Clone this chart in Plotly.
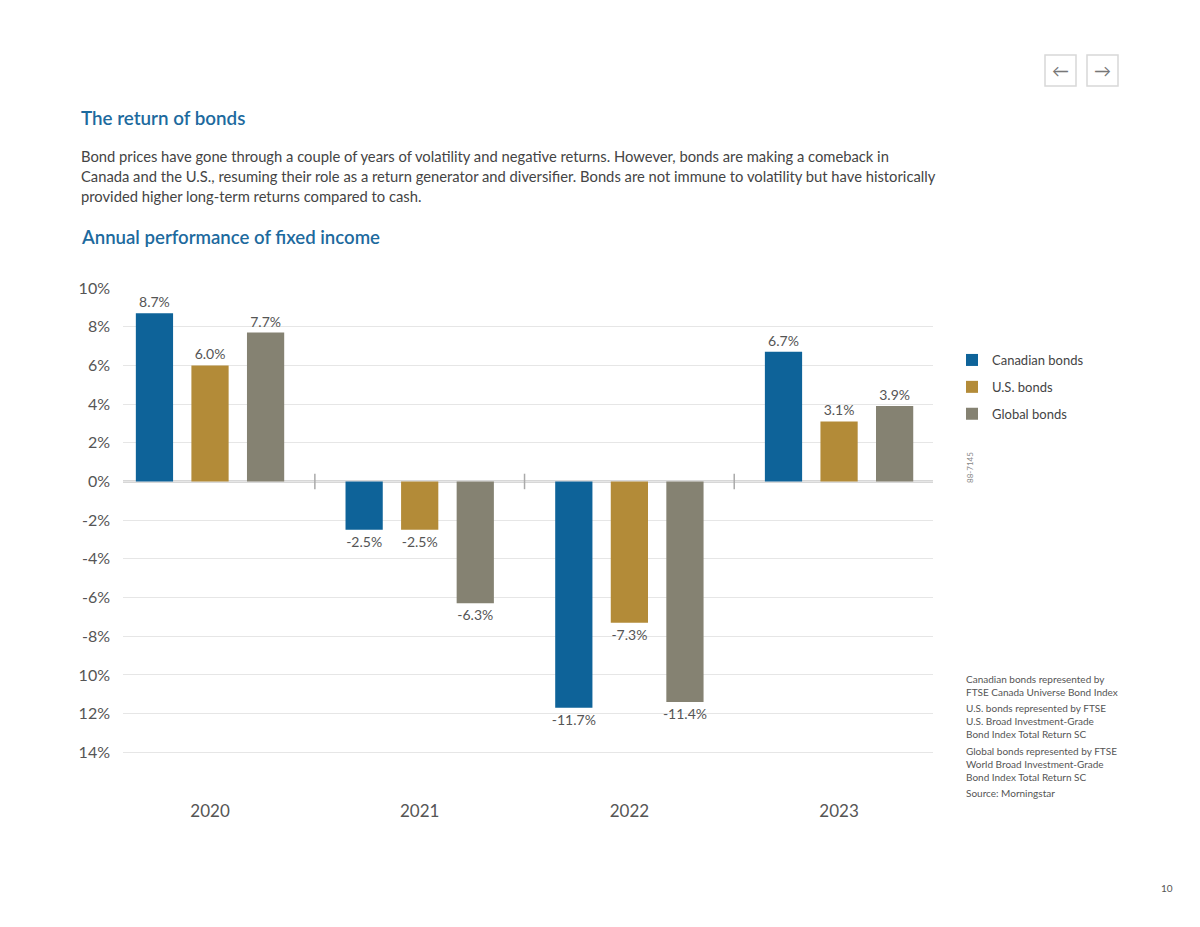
import plotly.graph_objects as go

years = ["2020", "2021", "2022", "2023"]
canadian = [8.7, -2.5, -11.7, 6.7]
us = [6.0, -2.5, -7.3, 3.1]
global_b = [7.7, -6.3, -11.4, 3.9]
series_names = ["Canadian bonds", "U.S. bonds", "Global bonds"]
series_colors = ["#0e6399", "#b38b38", "#858272"]
tick_vals = [10, 8, 6, 4, 2, 0, -2, -4, -6, -8, -10, -12, -14, -16]
tick_text = ["10%", "8%", "6%", "4%", "2%", "0%", "-2%", "-4%", "-6%", "-8%", "10%", "12%", "14%", ""]

OFF = 8  # page body margin
W, H = 1200 - OFF, 927 - OFF
L, R, T, B = 123, 933, 288, 791  # page pixel coordinates of plot area
FONT = "Lato"
BLUE = "#1d6a9e"
GREY = "#555555"


def px(x):
    return (x - L) / (R - L)


def py(y):
    return (B - y) / (B - T)


fig = go.Figure()
for i, (name, vals, col) in enumerate(zip(series_names, [canadian, us, global_b], series_colors)):
    fig.add_trace(go.Bar(
        x=years, y=vals, name=name, marker=dict(color=col, line=dict(width=0)),
        text=[f"{v:.1f}%" for v in vals], textposition="outside", constraintext="none",
        textfont=dict(family=FONT, size=14, color=GREY), cliponaxis=False,
        legendgroup=name, hoverinfo="skip",
    ))

shapes = []
for xs in [0.5, 1.5, 2.5]:
    shapes.append(dict(type="line", xref="x", yref="y", x0=xs, x1=xs, y0=-0.4, y1=0.4,
                       line=dict(color="#aaaaaa", width=1.5)))
shapes.append(dict(type="line", xref="paper", yref="y", x0=0, x1=1, y0=0, y1=0,
                   line=dict(color="#b0b0b0", width=2), layer="below"))
for x0 in [1045, 1087]:
    shapes.append(dict(type="rect", xref="paper", yref="paper", x0=px(x0), x1=px(x0 + 31),
                       y0=py(86), y1=py(55), line=dict(color="#d8d8d8", width=1.5)))

annotations = []


def txt(x, y, s, size, color=GREY, weight=400, xanchor="left", yanchor="middle", align="left", angle=0):
    annotations.append(dict(x=px(x), y=py(y), xref="paper", yref="paper", text=s, showarrow=False,
                            xanchor=xanchor, yanchor=yanchor, align=align, textangle=angle,
                            font=dict(family=FONT, size=size, color=color, weight=weight)))


txt(79, 117, "The return of bonds", 18.8, BLUE, 600)
txt(79, 237, "Annual performance of fixed income", 18.6, BLUE, 600)
para = ["Bond prices have gone through a couple of years of volatility and negative returns. However, bonds are making a comeback in",
        "Canada and the U.S., resuming their role as a return generator and diversifier. Bonds are not immune to volatility but have historically",
        "provided higher long-term returns compared to cash."]
for k, line in enumerate(para):
    txt(79, 156 + 20 * k, line, 14.75, "#444444")

txt(1060.5, 71, "←", 17, "#777777", xanchor="center")
txt(1102.5, 71, "→", 17, "#777777", xanchor="center")

txt(970, 468, "88-7145", 8, "#888888", xanchor="center", angle=-90)

notes = [(685, "Canadian bonds represented by<br>FTSE Canada Universe Bond Index"),
         (721, "U.S. bonds represented by FTSE<br>U.S. Broad Investment-Grade<br>Bond Index Total Return SC"),
         (764, "Global bonds represented by FTSE<br>World Broad Investment-Grade<br>Bond Index Total Return SC"),
         (793, "Source: Morningstar")]
for y, s in notes:
    txt(964, y, s, 10, GREY)

txt(1167, 888, "10", 10, GREY, xanchor="center")

fig.update_layout(
    width=W, height=H,
    margin=dict(l=L - OFF, r=W - (R - OFF), t=T - OFF, b=H - (B - OFF), pad=0),
    paper_bgcolor="white", plot_bgcolor="white",
    barmode="group", bargap=0.205, bargroupgap=0.33,
    showlegend=True,
    legend=dict(x=px(952), y=py(345), xanchor="left", yanchor="top",
                font=dict(family=FONT, size=13, color="#444444"),
                tracegroupgap=7, itemclick=False, bgcolor="rgba(0,0,0,0)"),
    xaxis=dict(type="category", range=[-0.415, 3.448], showgrid=False, showline=False,
               ticks="", tickfont=dict(family=FONT, size=17, color=GREY), ticklabelstandoff=8,
               fixedrange=True),
    yaxis=dict(range=[-16, 10], tickvals=tick_vals, ticktext=tick_text, showgrid=True,
               gridcolor="#e6e6e6", gridwidth=1, zeroline=False, showline=False,
               tickfont=dict(family=FONT, size=16, color=GREY), ticklabelstandoff=12,
               fixedrange=True),
    shapes=shapes, annotations=annotations,
    font=dict(family=FONT),
)

fig.write_html("out.html", config={"displayModeBar": False})
